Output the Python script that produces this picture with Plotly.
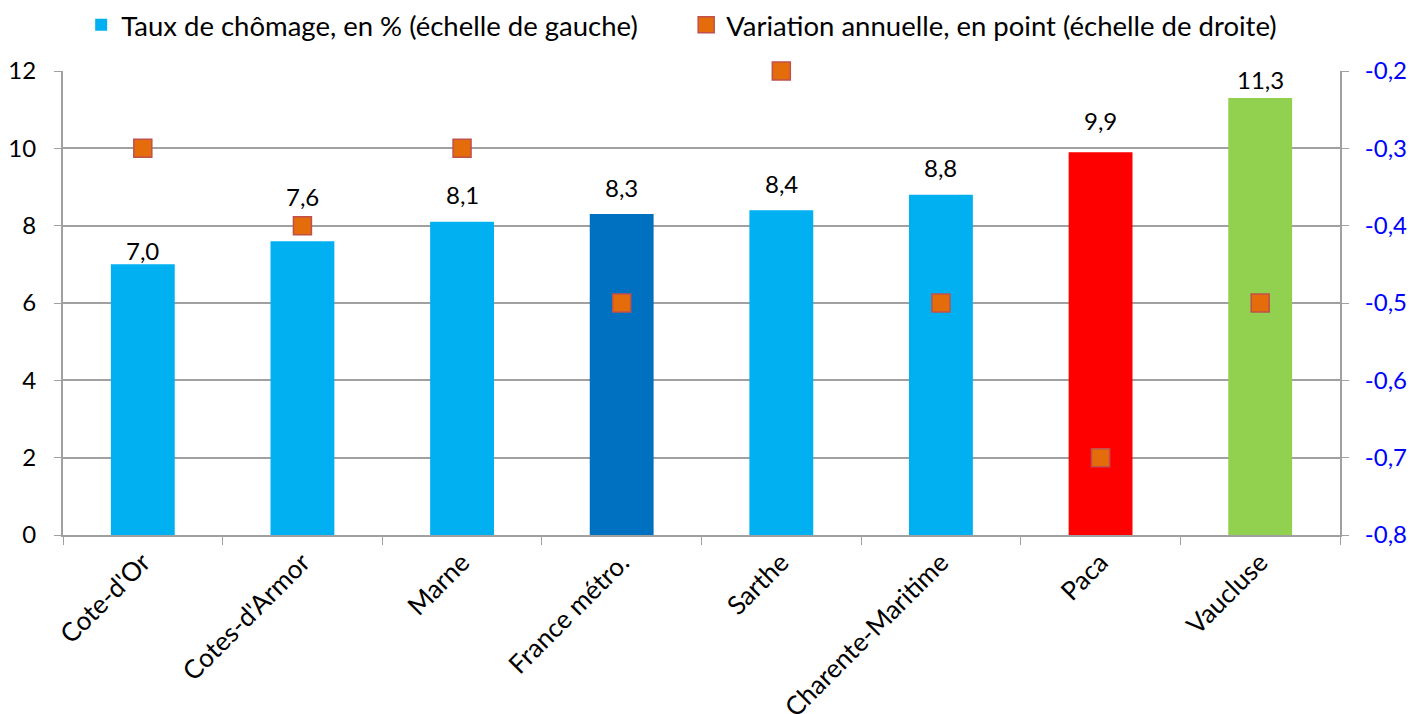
import plotly.graph_objects as go

categories = ["Cote-d'Or", "Cotes-d'Armor", "Marne", "France métro.", "Sarthe",
              "Charente-Maritime", "Paca", "Vaucluse"]
taux = [7.0, 7.6, 8.1, 8.3, 8.4, 8.8, 9.9, 11.3]
variation = [-0.3, -0.4, -0.3, -0.5, -0.2, -0.5, -0.7, -0.5]
left_ticks = [0, 2, 4, 6, 8, 10, 12]
right_ticks = [-0.8, -0.7, -0.6, -0.5, -0.4, -0.3, -0.2]
right_tick_labels = ["-0,8", "-0,7", "-0,6", "-0,5", "-0,4", "-0,3", "-0,2"]

# styles
bar_colors = ["#00B0F0", "#00B0F0", "#00B0F0", "#0070C0", "#00B0F0",
              "#00B0F0", "#FF0000", "#92D050"]
label_shift_px = [14, 45, 27, 27, 27, 27, 32, 19]

FONT = "Lato"
FS = 24
FS_BIG = 27.5

fig = go.Figure()
fig.add_trace(go.Bar(
    x=categories, y=taux, name="Taux de chômage, en % (échelle de gauche)",
    marker=dict(color=bar_colors, line=dict(width=0)),
    width=0.4,
    yaxis="y",
))
fig.add_trace(go.Scatter(
    x=categories, y=variation, name="Variation annuelle, en point (échelle de droite)",
    mode="markers",
    marker=dict(symbol="square", size=18, color="#E46C0A",
                line=dict(color="#C0504D", width=1.5)),
    yaxis="y2", cliponaxis=False,
))

annotations = []
for cat, v, sh in zip(categories, taux, label_shift_px):
    annotations.append(dict(
        x=cat, y=v, xref="x", yref="y", text=f"{v:.1f}".replace(".", ","),
        showarrow=False, yanchor="middle", yshift=sh,
        font=dict(size=FS, color="black", family=FONT),
    ))

fig.update_layout(
    width=1410, height=714,
    paper_bgcolor="white", plot_bgcolor="white",
    separators=", ",
    font=dict(family=FONT, size=FS, color="black"),
    margin=dict(l=63, r=70, t=71, b=179, autoexpand=False),
    showlegend=True,
    annotations=annotations,
    legend=dict(orientation="h", x=0.488, xanchor="center",
                yref="container", y=0.965, yanchor="middle",
                font=dict(size=FS_BIG, family=FONT), itemwidth=30,
                entrywidth=560, entrywidthmode="pixels",
                traceorder="normal"),
    xaxis=dict(
        type="category", tickangle=-45, showline=True, linecolor="#A0A0A0", linewidth=2,
        ticks="outside", tickson="boundaries", ticklen=8, tickcolor="#A0A0A0",
        tickfont=dict(size=26, family=FONT), showgrid=False, automargin=False,
    ),
    yaxis=dict(
        range=[0, 12], tickvals=left_ticks, showline=True, linecolor="#A0A0A0", linewidth=2,
        ticks="outside", ticklen=7, tickcolor="#A0A0A0", ticklabelstandoff=13,
        showgrid=True, gridcolor="#A0A0A0", gridwidth=1.5, zeroline=False,
        tickfont=dict(size=FS, family=FONT), automargin=False,
    ),
    yaxis2=dict(
        range=[-0.8, -0.2], tickvals=right_ticks, ticktext=right_tick_labels,
        overlaying="y", side="right",
        showline=True, linecolor="#A0A0A0", linewidth=2,
        ticks="outside", ticklen=7, tickcolor="#A0A0A0", ticklabelstandoff=11,
        showgrid=False, zeroline=False, automargin=False,
        tickfont=dict(size=FS, color="#0000FF", family=FONT),
    ),
)

# remove the default 8px page margin so the 1410x714 figure fills the window
fig.write_html("out.html", config={"displayModeBar": False},
               post_script="document.body.style.margin='0';")
